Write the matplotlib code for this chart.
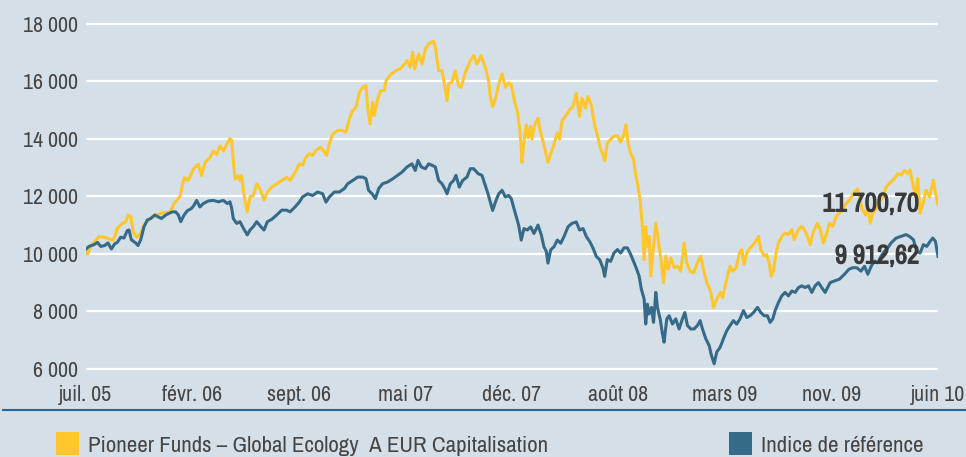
import matplotlib
matplotlib.use("Agg")
import numpy as np
import matplotlib.pyplot as plt
import matplotlib.patheffects as pe
from matplotlib import font_manager
from matplotlib.font_manager import FontProperties
from matplotlib.lines import Line2D
from matplotlib.patches import Rectangle
from matplotlib.ticker import FuncFormatter

# Series names (legend)
fund_name = "Pioneer Funds \u2013 Global Ecology  A EUR Capitalisation"
index_name = "Indice de r\u00e9f\u00e9rence"

# x axis labels
month_labels = ["juil. 05", "f\u00e9vr. 06", "sept. 06", "mai 07", "d\u00e9c. 07",
                "ao\u00fbt 08", "mars 09", "nov. 09", "juin 10"]

# Fund: months since juil. 05, value of 10 000 invested
fund_months = [
    0.00, 0.10, 0.32, 0.90, 1.25, 1.71, 1.90, 2.17, 2.52, 2.75,
    2.93, 3.10, 3.28, 3.51, 3.74, 4.02, 4.36, 4.83, 5.40, 5.82,
    6.10, 6.51, 6.79, 7.07, 7.44, 7.78, 8.00, 8.24, 8.59, 8.82,
    9.05, 9.28, 9.51, 9.74, 9.97, 10.09, 10.20, 10.32, 10.55, 10.66,
    10.78, 10.90, 11.00, 11.17, 11.36, 11.59, 11.82, 12.05, 12.33, 12.56,
    12.86, 13.20, 13.55, 13.90, 14.13, 14.47, 14.77, 15.00, 15.23, 15.46,
    15.69, 15.93, 16.27, 16.50, 16.66, 16.85, 17.08, 17.43, 17.77, 18.00,
    18.23, 18.46, 18.70, 18.93, 19.16, 19.39, 19.50, 19.67, 19.85, 19.97,
    20.20, 20.43, 20.66, 20.78, 21.12, 21.47, 21.81, 22.23, 22.46, 22.62,
    22.76, 23.03, 23.27, 23.50, 23.73, 24.07, 24.19, 24.42, 24.65, 24.84,
    25.00, 25.11, 25.34, 25.57, 25.80, 25.97, 26.27, 26.61, 26.85, 27.08,
    27.35, 27.65, 27.88, 28.00, 28.16, 28.39, 28.62, 28.81, 29.04, 29.27,
    29.45, 29.68, 29.87, 30.03, 30.14, 30.19, 30.33, 30.49, 30.61, 30.79,
    30.88, 31.07, 31.30, 31.41, 31.64, 31.81, 31.99, 32.18, 32.41, 32.64,
    32.80, 32.96, 33.19, 33.49, 33.72, 33.95, 34.18, 34.35, 34.58, 34.76,
    34.99, 35.22, 35.46, 35.64, 35.80, 35.92, 36.10, 36.33, 36.56, 36.80,
    37.03, 37.26, 37.38, 37.54, 37.72, 37.91, 38.07, 38.23, 38.37, 38.53,
    38.65, 38.76, 38.88, 38.99, 39.11, 39.30, 39.46, 39.62, 39.80, 39.99,
    40.15, 40.31, 40.50, 40.73, 40.96, 41.19, 41.42, 41.60, 41.84, 42.07,
    42.34, 42.57, 42.76, 42.99, 43.27, 43.45, 43.68, 43.96, 44.09, 44.26,
    44.42, 44.60, 44.79, 45.02, 45.25, 45.41, 45.57, 45.76, 45.99, 46.22,
    46.45, 46.57, 46.73, 46.96, 47.14, 47.33, 47.44, 47.60, 47.79, 47.95,
    48.18, 48.41, 48.64, 48.88, 49.04, 49.27, 49.50, 49.68, 49.91, 50.15,
    50.38, 50.65, 50.84, 51.07, 51.30, 51.48, 51.71, 51.94, 52.29, 52.64,
    52.87, 53.21, 53.44, 53.56, 53.74, 53.98, 54.14, 54.30, 54.48, 54.71,
    54.90, 55.18, 55.41, 55.75, 55.98, 56.22, 56.45, 56.68, 56.91, 57.07,
    57.25, 57.44, 57.60, 57.76, 57.99, 58.18, 58.41, 58.68, 58.82, 59.00,
]
fund_values = [
    10150, 9980, 10260, 10600, 10580, 10500, 10480, 10890, 11060, 11120,
    11350, 11300, 10750, 10580, 10680, 11000, 11200, 11350, 11440, 11450,
    11750, 12000, 12650, 12550, 12950, 13120, 12720, 13180, 13350, 13580,
    13460, 13750, 13580, 13800, 14010, 13950, 13230, 12600, 12720, 12550,
    12720, 12200, 11870, 11460, 11990, 12030, 12430, 12260, 11870, 12150,
    12320, 12430, 12550, 12660, 12550, 12830, 13130, 13080, 13360, 13480,
    13420, 13600, 13710, 13540, 13420, 13830, 14170, 14290, 14290, 14230,
    14690, 14980, 15100, 15620, 15790, 15850, 15100, 14520, 15270, 14810,
    15390, 15680, 15680, 16020, 16250, 16370, 16450, 16720, 16490, 17010,
    16430, 16950, 16600, 17120, 17300, 17390, 17180, 16370, 16370, 15850,
    15330, 15910, 15970, 16370, 15850, 15790, 16310, 16720, 16890, 16600,
    16890, 16490, 16020, 15450, 15120, 15450, 15970, 16260, 15790, 15950,
    15870, 15290, 14950, 14380, 13690, 13180, 13920, 14490, 14030, 14440,
    13980, 14490, 14720, 14380, 13920, 13580, 13180, 13460, 13810, 14210,
    13980, 14610, 14780, 15010, 15120, 15580, 14780, 15410, 15070, 15470,
    15180, 14490, 14030, 13630, 13460, 13230, 13860, 13980, 14090, 14110,
    13880, 14170, 14490, 13830, 13480, 13310, 12740, 12330, 11870, 10950,
    9800, 10950, 10260, 10610, 9230, 10260, 11070, 10490, 9860, 9000,
    9920, 9460, 9860, 9520, 9570, 9400, 10380, 9690, 9400, 9340,
    9690, 9920, 9460, 9000, 8660, 8140, 8430, 8660, 8480, 8890,
    9230, 9570, 9400, 9520, 10030, 10150, 9630, 10030, 10210, 10320,
    10490, 10610, 10150, 9920, 9980, 9630, 9230, 9400, 10030, 10380,
    10610, 10720, 10670, 10840, 10490, 10780, 10950, 10900, 10670, 10320,
    10780, 11070, 10840, 10380, 10720, 11070, 10950, 11300, 11470, 11760,
    11860, 12150, 12260, 11980, 11570, 11350, 11640, 11070, 11410, 11570,
    11800, 11980, 12330, 12500, 12620, 12790, 12740, 12910, 12790, 12910,
    12450, 11980, 12620, 11410, 11800, 12210, 11980, 12560, 12150, 11700.70,
]

# Benchmark index
index_months = [
    0.00, 0.21, 0.55, 0.79, 1.02, 1.29, 1.52, 1.76, 1.99, 2.17,
    2.40, 2.63, 2.86, 2.98, 3.14, 3.44, 3.60, 3.79, 4.02, 4.25,
    4.48, 4.76, 4.99, 5.22, 5.52, 5.75, 5.98, 6.21, 6.40, 6.56,
    6.79, 7.02, 7.30, 7.48, 7.66, 7.89, 8.12, 8.47, 8.82, 9.16,
    9.51, 9.79, 9.97, 10.09, 10.20, 10.43, 10.66, 10.90, 11.17, 11.36,
    11.59, 11.82, 12.10, 12.33, 12.56, 12.86, 13.20, 13.55, 13.90, 14.13,
    14.47, 14.77, 15.00, 15.35, 15.69, 16.04, 16.39, 16.62, 16.85, 17.20,
    17.54, 17.89, 18.12, 18.47, 18.81, 19.16, 19.39, 19.57, 19.81, 20.04,
    20.27, 20.54, 20.89, 21.24, 21.58, 21.88, 22.23, 22.57, 22.80, 22.99,
    23.22, 23.50, 23.73, 24.00, 24.19, 24.42, 24.65, 24.84, 25.00, 25.23,
    25.46, 25.62, 25.85, 26.08, 26.38, 26.61, 26.85, 27.15, 27.42, 27.65,
    27.84, 28.00, 28.16, 28.35, 28.58, 28.81, 29.04, 29.27, 29.45, 29.64,
    29.80, 29.96, 30.14, 30.33, 30.56, 30.79, 31.02, 31.30, 31.53, 31.71,
    31.88, 31.99, 32.18, 32.41, 32.64, 32.87, 33.10, 33.38, 33.65, 33.95,
    34.18, 34.42, 34.65, 34.88, 35.11, 35.34, 35.57, 35.80, 35.92, 36.10,
    36.33, 36.56, 36.80, 37.03, 37.26, 37.49, 37.72, 37.96, 38.14, 38.30,
    38.46, 38.65, 38.76, 38.88, 38.99, 39.16, 39.30, 39.46, 39.57, 39.76,
    39.92, 40.03, 40.22, 40.38, 40.61, 40.84, 41.07, 41.30, 41.47, 41.65,
    41.88, 42.11, 42.34, 42.53, 42.69, 42.92, 43.15, 43.31, 43.50, 43.68,
    43.91, 44.14, 44.37, 44.60, 44.83, 45.06, 45.29, 45.53, 45.76, 45.99,
    46.22, 46.50, 46.73, 46.96, 47.19, 47.37, 47.56, 47.72, 47.95, 48.18,
    48.41, 48.64, 48.88, 49.11, 49.34, 49.57, 49.80, 50.03, 50.26, 50.49,
    50.72, 50.95, 51.18, 51.42, 51.53, 51.83, 52.17, 52.52, 52.82, 53.10,
    53.37, 53.67, 53.91, 54.14, 54.37, 54.60, 54.83, 55.06, 55.29, 55.52,
    55.75, 56.10, 56.45, 56.79, 57.02, 57.30, 57.53, 57.76, 57.99, 58.22,
    58.46, 58.64, 58.82, 59.00,
]
index_values = [
    10170, 10260, 10320, 10400, 10260, 10290, 10380, 10170, 10350, 10400,
    10580, 10550, 10810, 10830, 10490, 10380, 10290, 10490, 10950, 11180,
    11230, 11350, 11290, 11230, 11350, 11410, 11460, 11460, 11350, 11120,
    11350, 11500, 11580, 11690, 11860, 11630, 11750, 11840, 11860, 11810,
    11860, 11750, 11810, 11580, 11230, 11060, 11120, 10890, 10660, 10830,
    10950, 11120, 10950, 10830, 11120, 11200, 11350, 11520, 11520, 11460,
    11630, 11800, 11980, 12090, 12030, 12150, 12090, 11800, 11980, 12150,
    12150, 12270, 12440, 12550, 12670, 12670, 12610, 12210, 12090, 11920,
    12270, 12440, 12500, 12610, 12730, 12840, 13020, 13130, 12900, 13250,
    13020, 12960, 13130, 13070, 13020, 12550, 12440, 12270, 12090, 12440,
    12550, 12730, 12320, 12550, 12670, 12960, 12960, 12790, 12730, 12380,
    12090, 11800, 11510, 11800, 12090, 12210, 11980, 12030, 11920, 11570,
    11290, 11000, 10480, 10880, 10830, 10940, 10710, 11000, 10660, 10250,
    10080, 9680, 10140, 10250, 10480, 10370, 10600, 10940, 11060, 11110,
    10830, 10880, 10600, 10430, 10200, 9910, 9800, 9510, 9220, 9800,
    9740, 10030, 10150, 10030, 10210, 10210, 9980, 9690, 9460, 9230,
    8770, 8430, 7560, 8250, 7910, 8140, 7620, 8660, 8140, 7740,
    7220, 6930, 7740, 7850, 7560, 7740, 7390, 7740, 7960, 7510,
    7390, 7390, 7510, 7680, 7390, 7050, 6820, 6470, 6180, 6590,
    6750, 7050, 7330, 7510, 7680, 7560, 7740, 8030, 7790, 7850,
    7960, 8140, 7960, 7850, 7850, 7620, 7740, 8030, 8310, 8540,
    8660, 8540, 8710, 8660, 8830, 8890, 8830, 8890, 8660, 8890,
    9000, 8830, 8660, 8890, 9000, 9060, 9120, 9290, 9460, 9520,
    9520, 9400, 9570, 9290, 9570, 9750, 9690, 9920, 10090, 10210,
    10380, 10550, 10610, 10670, 10610, 10490, 10090, 10030, 10320, 10260,
    10440, 10550, 10440, 9912.62,
]

# Look for a narrow / condensed face, the reference uses one
narrow = None
for f in font_manager.fontManager.ttflist:
    if 'Narrow' in f.name or 'Condensed' in f.name:
        narrow = f.name
        break
if narrow is None:
    for f in font_manager.fontManager.ttflist:
        if str(f.stretch) in ('condensed', 'semi-condensed', 'extra-condensed'):
            narrow = f.name
            plt.rcParams['font.stretch'] = 'condensed'
            break

if narrow is not None:
    plt.rcParams['font.family'] = [narrow, 'DejaVu Sans']
    SIZE, BOLD_SIZE, LEG_SIZE = 15.8, 19.0, 16.5
else:
    plt.rcParams['font.family'] = ['Roboto', 'DejaVu Sans']
    SIZE, BOLD_SIZE, LEG_SIZE = 14.0, 16.5, 12.8

# fake the bold if the face has no bold file
bold_file = font_manager.findfont(FontProperties(family=plt.rcParams['font.family'][0], weight='bold'))
has_bold = 'bold' in bold_file.lower()

BG = '#d5dfe7'
YELLOW = '#ffc72c'
BLUE = '#356b88'
TEXT = '#454545'
NUM = '#3a3a3a'
W, H = 966, 457


def fr_number(v, decimals=0):
    s = f"{v:,.{decimals}f}"
    return s.replace(",", " ").replace(".", ",")


fig = plt.figure(figsize=(W / 100, H / 100), dpi=100, facecolor=BG)
ax = fig.add_axes([86 / W, 1 - 370.4 / H, 852 / W, 348.1 / H], facecolor=BG)

ax.plot(fund_months, fund_values, color=YELLOW, lw=2.2, zorder=3)
ax.plot(index_months, index_values, color=BLUE, lw=2.2, zorder=4)

ax.set_xlim(0, 59)
ax.set_ylim(5950, 18050)
ax.set_yticks(range(6000, 18001, 2000))
ax.yaxis.set_major_formatter(FuncFormatter(lambda v, p: fr_number(v)))
ax.set_xticks(np.linspace(0, 59, len(month_labels)))
ax.set_xticklabels(month_labels)
ax.grid(axis='y', color='white', lw=1.6, zorder=1)
ax.tick_params(length=0, labelsize=SIZE, colors=TEXT)
ax.tick_params(axis='y', pad=5.5)
ax.tick_params(axis='x', pad=10.5)
for s in ax.spines.values():
    s.set_visible(False)

# end values
effects = [] if has_bold else [pe.withStroke(linewidth=0.9, foreground=NUM)]
for val, dy in [(fund_values[-1], 40), (index_values[-1], 20)]:
    ax.annotate(fr_number(val, 2), xy=(57.7, val + dy), ha='right', va='center',
                fontsize=BOLD_SIZE, fontweight='bold', color=NUM, zorder=5,
                path_effects=effects)

# rule under the axis
fig.add_artist(Line2D([3 / W, 1], [1 - 409.5 / H] * 2, transform=fig.transFigure,
                      color='#1f6aa5', lw=1.5))

# legend
for x0, color, name in [(56, YELLOW, fund_name), (729, BLUE, index_name)]:
    fig.add_artist(Rectangle((x0 / W, 1 - 455 / H), 23 / W, 23 / H,
                             transform=fig.transFigure, facecolor=color, edgecolor='none'))
    fig.text((x0 + 32) / W, 1 - 452.5 / H, name, fontsize=LEG_SIZE, color=TEXT,
             ha='left', va='baseline')

fig.savefig('out.png', dpi=100, facecolor=BG)
